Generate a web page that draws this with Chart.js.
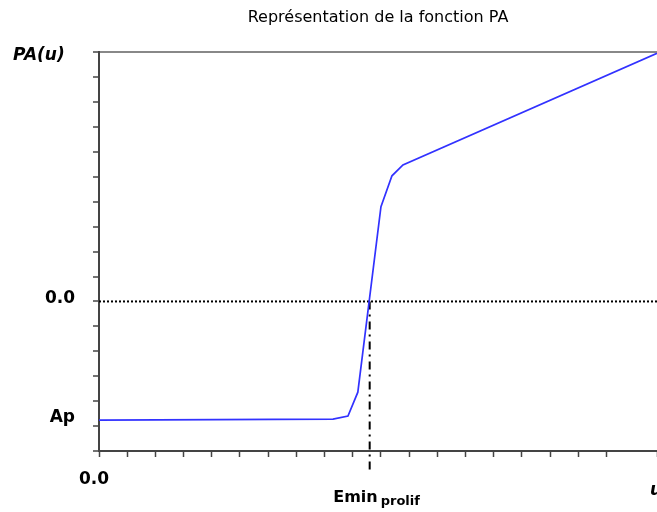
<!DOCTYPE html>
<html>
<head>
<meta charset="utf-8">
<script src="https://cdn.jsdelivr.net/npm/chart.js@4"></script>
<style>
  html, body { margin: 0; padding: 0; background: #fff; }
  #wrap { width: 657px; height: 512px; }
</style>
</head>
<body>
<div id="wrap"><canvas id="pa-chart"></canvas></div>
<script>
// values (u on x, PA(u) on y)
const uValues = [0, 8.30, 8.83, 9.18, 10.0, 10.39, 10.78, 19.79];
const paValues = [-4.76, -4.72, -4.6, -3.64, 3.8, 5.04, 5.48, 9.96];

const AP = -4.76;
const EMIN = 9.6;
const U_MAX = 19.79;
const Y_MIN = -6;
const Y_MAX = 10;

const titleText = "Représentation de la fonction PA";
const yAxisLabel = "PA(u)";
const xAxisLabel = "u";

const FONT = "'DejaVu Sans', Verdana, sans-serif";

function near(a, b) {
  return Math.abs(a - b) < 1e-6;
}

// extra texts: PA(u), u and Emin_prolif (with subscript)
const axisTexts = {
  id: "axisTexts",
  afterDraw(chart) {
    const ctx = chart.ctx;
    const xs = chart.scales.x;
    const ys = chart.scales.y;
    ctx.save();
    ctx.fillStyle = "#000";

    ctx.font = "italic bold 17px " + FONT;
    ctx.textAlign = "left";
    ctx.textBaseline = "middle";
    ctx.fillText(yAxisLabel, 13, ys.getPixelForValue(Y_MAX) + 3);

    ctx.textBaseline = "alphabetic";
    ctx.fillText(xAxisLabel, xs.getPixelForValue(U_MAX) - 7, 495);

    const ex = xs.getPixelForValue(EMIN);
    ctx.font = "bold 16px " + FONT;
    ctx.textAlign = "right";
    ctx.fillText("Emin", ex + 8, 502);
    ctx.font = "bold 13px " + FONT;
    ctx.textAlign = "left";
    ctx.fillText("prolif", ex + 11, 505);
    ctx.restore();
  },
};

document.addEventListener("DOMContentLoaded", () => {
  const curve = uValues.map((u, i) => ({ x: u, y: paValues[i] }));

  new Chart(document.getElementById("pa-chart"), {
    type: "line",
    data: {
      datasets: [
        {
          label: "PA",
          data: curve,
          borderColor: "rgb(50, 50, 255)",
          borderWidth: 1.7,
          pointRadius: 0,
          tension: 0,
        },
        {
          label: "zero",
          data: [{ x: 0, y: 0 }, { x: U_MAX, y: 0 }],
          borderColor: "#000",
          borderWidth: 2,
          borderDash: [2, 2],
          pointRadius: 0,
        },
        {
          label: "Emin",
          data: [{ x: EMIN, y: 0 }, { x: EMIN, y: -6.8 }],
          borderColor: "#000",
          borderWidth: 2,
          borderDash: [8, 5, 2, 5],
          pointRadius: 0,
          clip: false,
        },
      ],
    },
    options: {
      responsive: true,
      maintainAspectRatio: false,
      animation: false,
      layout: { padding: 0 },
      plugins: {
        legend: { display: false },
        tooltip: { enabled: false },
        title: {
          display: true,
          text: titleText,
          fullSize: false,
          color: "#000",
          font: { family: FONT, size: 16, weight: "normal", lineHeight: 1.2 },
          padding: { top: 8, bottom: 25 },
        },
      },
      scales: {
        x: {
          type: "linear",
          min: 0,
          max: U_MAX,
          afterFit: (scale) => {
            scale.height = 61;
            scale.paddingLeft = 0;
            scale.paddingRight = 0;
          },
          border: { color: "#444", width: 2 },
          grid: {
            drawOnChartArea: false,
            tickLength: 6,
            tickWidth: 1.5,
            tickColor: "#444",
          },
          ticks: {
            stepSize: 1,
            autoSkip: false,
            maxRotation: 0,
            padding: 12,
            labelOffset: -5,
            color: "#000",
            font: { family: FONT, size: 17, weight: "bold" },
            callback: (v) => (near(v, 0) ? "0.0" : ""),
          },
        },
        y: {
          type: "linear",
          min: Y_MIN,
          max: Y_MAX,
          afterFit: (scale) => {
            scale.width = 99;
            scale.paddingTop = 0;
            scale.paddingBottom = 0;
          },
          afterBuildTicks: (scale) => {
            scale.ticks.push({ value: AP });
          },
          border: { color: "#444", width: 2 },
          grid: {
            drawOnChartArea: true,
            color: (c) => (c.tick && near(c.tick.value, Y_MAX) ? "#888" : "rgba(0,0,0,0)"),
            lineWidth: 2,
            tickLength: 6,
            tickWidth: 1.5,
            tickColor: (c) => (c.tick && near(c.tick.value, AP) ? "rgba(0,0,0,0)" : "#444"),
          },
          ticks: {
            stepSize: 1,
            autoSkip: false,
            padding: 18,
            labelOffset: -3,
            color: "#000",
            font: { family: FONT, size: 17, weight: "bold" },
            callback: (v) => {
              if (near(v, 0)) return "0.0";
              if (near(v, AP)) return "Ap";
              return "";
            },
          },
        },
      },
    },
    plugins: [axisTexts],
  });
});
</script>
</body>
</html>
